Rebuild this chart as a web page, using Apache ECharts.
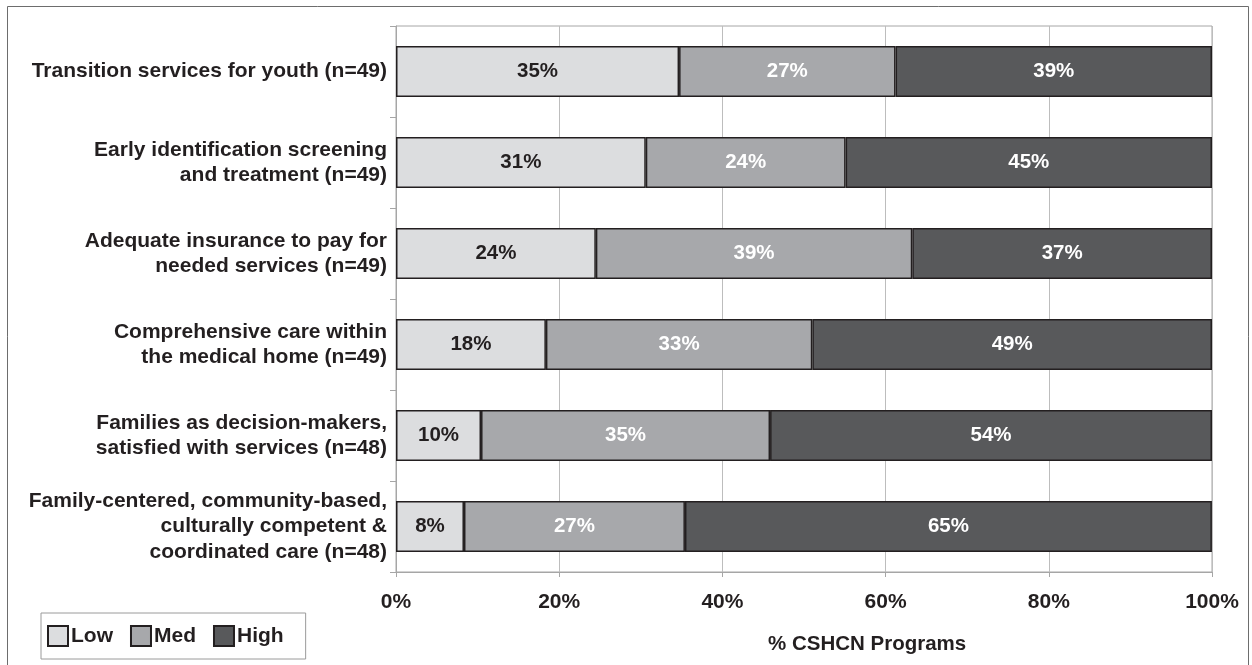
<!DOCTYPE html>
<html>
<head>
<meta charset="utf-8">
<script src="https://cdn.jsdelivr.net/npm/echarts@6/dist/echarts.min.js"></script>
<style>
  html, body { margin: 0; padding: 0; background: #fff; }
  #chart { width: 1252px; height: 665px; }
</style>
</head>
<body>
<div id="chart"></div>
<script>
// Priority areas rated by CSHCN programs (share of programs, %)
const categories = [
  'Transition services for youth (n=49)',
  'Early identification screening\nand treatment (n=49)',
  'Adequate insurance to pay for\nneeded services (n=49)',
  'Comprehensive care within\nthe medical home (n=49)',
  'Families as decision-makers,\nsatisfied with services (n=48)',
  'Family-centered, community-based,\nculturally competent &\ncoordinated care (n=48)'
];
const lowValues  = [34.69, 30.61, 24.49, 18.37, 10.42, 8.33];
const medValues  = [26.53, 24.49, 38.78, 32.65, 35.42, 27.08];
const highValues = [38.78, 44.90, 36.73, 48.98, 54.16, 64.58];
const xTicks = [0, 20, 40, 60, 80, 100];

const FONT = "'Liberation Sans', Arial, sans-serif";
const EDGE = '#231f20';

function barSeries(name, data, fill, textColor) {
  return {
    name: name,
    type: 'bar',
    stack: 'total',
    data: data,
    barWidth: 51,
    itemStyle: { color: fill, borderColor: EDGE, borderWidth: 1.5 },
    label: {
      show: true,
      position: 'inside',
      formatter: p => Math.round(p.value) + '%',
      color: textColor,
      fontFamily: FONT,
      fontWeight: 'bold',
      fontSize: 20.5
    },
    emphasis: { disabled: true }
  };
}

const chart = echarts.init(document.getElementById('chart'), null, { renderer: 'canvas' });
chart.setOption({
  animation: false,
  backgroundColor: '#fff',
  textStyle: { fontFamily: FONT },
  grid: {
    left: 396, right: 40, top: 26, bottom: 93,
    show: true, borderColor: '#a6a6a6', borderWidth: 1
  },
  legend: {
    left: 41, top: 613,
    orient: 'horizontal',
    data: ['Low', 'Med', 'High'],
    icon: 'rect',
    itemWidth: 20, itemHeight: 20,
    itemGap: 17,
    padding: [12, 22, 12, 6],
    borderColor: '#9a9a9a', borderWidth: 1,
    itemStyle: { borderWidth: 2, borderColor: EDGE },
    textStyle: { fontFamily: FONT, fontWeight: 'bold', fontSize: 21, color: EDGE, padding: [0, 0, 0, -2] }
  },
  xAxis: {
    type: 'value',
    min: 0, max: 100, interval: 20,
    axisLine: { show: true, lineStyle: { color: '#a6a6a6', width: 1 } },
    axisTick: { show: true, length: 5, lineStyle: { color: '#a6a6a6' } },
    splitLine: { show: true, lineStyle: { color: '#bdbdbd', width: 1 } },
    axisLabel: {
      margin: 20,
      formatter: v => (xTicks.indexOf(v) >= 0 ? v + '%' : ''),
      color: EDGE, fontFamily: FONT, fontWeight: 'bold', fontSize: 21
    }
  },
  yAxis: {
    type: 'category',
    data: categories,
    inverse: true,
    axisLine: { show: true, lineStyle: { color: '#a6a6a6', width: 1 } },
    axisTick: { show: true, length: 6, lineStyle: { color: '#a6a6a6' } },
    axisLabel: {
      margin: 9,
      align: 'right',
      lineHeight: 25.5,
      color: EDGE, fontFamily: FONT, fontWeight: 'bold', fontSize: 21
    }
  },
  graphic: [
    {
      type: 'rect',
      shape: { x: 7.5, y: 6.5, width: 1241, height: 700 },
      style: { fill: 'none', stroke: '#6d6d6d', lineWidth: 1 },
      silent: true
    },
    {
      type: 'text',
      left: 768, top: 634,
      style: {
        text: '% CSHCN Programs',
        fill: EDGE,
        font: 'bold 20.5px ' + FONT
      },
      silent: true
    }
  ],
  series: [
    barSeries('Low', lowValues, '#dcdddf', EDGE),
    barSeries('Med', medValues, '#a7a8ab', '#ffffff'),
    barSeries('High', highValues, '#58595b', '#ffffff')
  ]
});
</script>
</body>
</html>
